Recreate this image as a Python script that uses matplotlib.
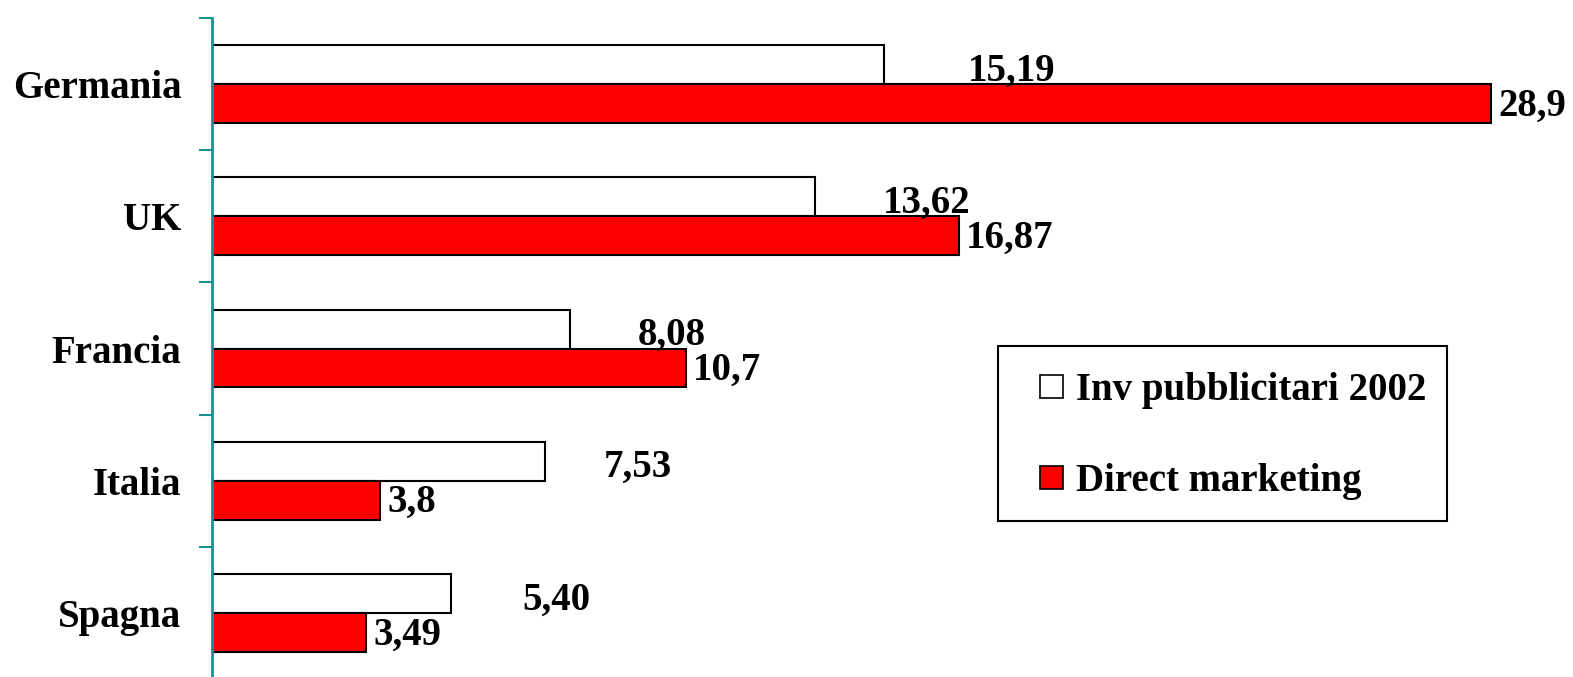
import matplotlib.pyplot as plt
from matplotlib.patches import Rectangle, Patch
import numpy as np

countries = ["Germania", "UK", "Francia", "Italia", "Spagna"]
inv_pubblicitari = [15.19, 13.62, 8.08, 7.53, 5.40]
direct_marketing = [28.9, 16.87, 10.7, 3.8, 3.49]
inv_labels = ["15,19", "13,62", "8,08", "7,53", "5,40"]
dm_labels = ["28,9", "16,87", "10,7", "3,8", "3,49"]

# horizontal shift of the white-bar labels (data units)
inv_label_dx = [2.88, 2.53, 2.31, 2.09, 2.39]

plt.rcParams['font.family'] = ['Liberation Serif', 'DejaVu Serif']
plt.rcParams['font.weight'] = 'bold'
fs = 28
teal = '#1a9090'

fig = plt.figure(figsize=(15.73, 6.77), dpi=100)
ax = fig.add_axes([212 / 1573, -2 / 677, 1 - 212 / 1573, 661 / 677])

y = np.arange(len(countries))
h = 0.295
ax.barh(y - h / 2, inv_pubblicitari, height=h, color='white', edgecolor='black', linewidth=1.5)
ax.barh(y + h / 2, direct_marketing, height=h, color='#ff0000', edgecolor='black', linewidth=1.5)

for i in range(len(countries)):
    ax.text(inv_pubblicitari[i] + inv_label_dx[i], y[i] - h / 2 + 0.05, inv_labels[i],
            ha='center', va='center', fontsize=fs, fontweight='bold')
    ax.annotate(dm_labels[i], (direct_marketing[i], y[i] + h / 2 + 0.02), xytext=(5, 0),
                textcoords='offset points', ha='left', va='center',
                fontsize=fs, fontweight='bold')

ax.set_xlim(0, 1361 / 44.26)
ax.set_ylim(len(countries) - 0.5, -0.5)
ax.set_yticks(np.arange(len(countries) + 1) - 0.5, minor=False)
ax.set_yticklabels([])
ax.set_yticks(y, minor=True)
ax.set_yticklabels(countries, minor=True, fontsize=fs, fontweight='bold')
ax.tick_params(axis='y', which='major', length=9.5, width=1.5, color=teal, direction='out')
ax.tick_params(axis='y', which='minor', length=0, pad=22)
ax.set_xticks([])
for s in ['top', 'right', 'bottom']:
    ax.spines[s].set_visible(False)
ax.spines['left'].set_color(teal)
ax.spines['left'].set_linewidth(2)

# legend box
fig.patches.append(Rectangle((998 / 1573, 1 - 521 / 677), 449 / 1573, 175 / 677,
                             transform=fig.transFigure, facecolor='white',
                             edgecolor='black', linewidth=1.5, zorder=5))
handles = [Patch(facecolor='white', edgecolor='black', linewidth=1.2),
           Patch(facecolor='#ff0000', edgecolor='black', linewidth=1.2)]
leg = fig.legend(handles, ["Inv pubblicitari 2002", "Direct marketing"],
                 loc='upper left', bbox_to_anchor=(1040 / 1573, 1 - 372 / 677),
                 frameon=False, prop={'weight': 'bold', 'size': fs},
                 handlelength=0.6, handleheight=0.55, handletextpad=0.32,
                 labelspacing=1.4, borderpad=0, borderaxespad=0)
leg.set_zorder(6)

fig.savefig('out.png', dpi=100)
